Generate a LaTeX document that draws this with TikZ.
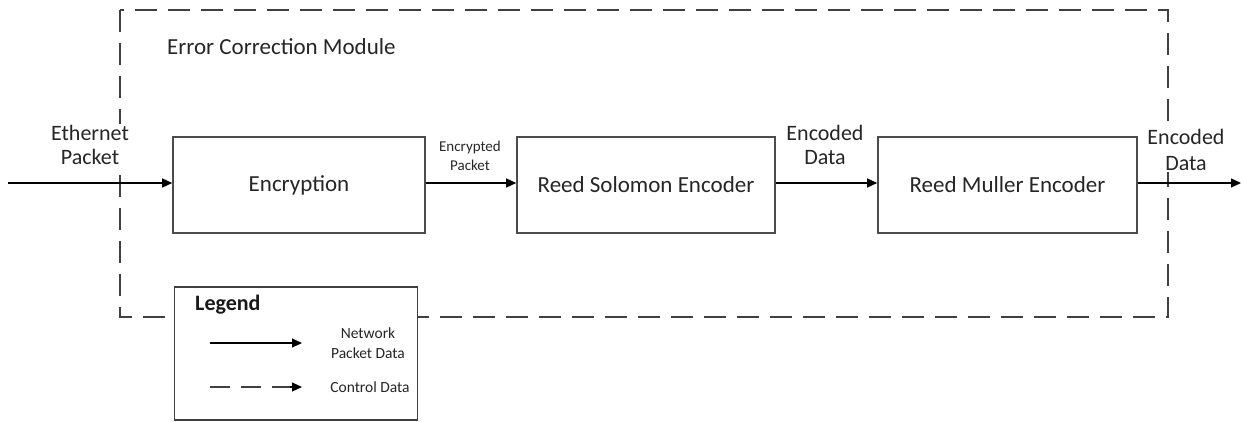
\documentclass[tikz,border=0pt]{standalone}
\usepackage{fontspec}
\setmainfont{Carlito}
\usetikzlibrary{arrows.meta}
\begin{document}
\begin{tikzpicture}[x=1pt,y=-1pt,
  blockbox/.style={draw=black!70,line width=1.6pt,fill=white,minimum width=252pt,minimum height=96pt,inner sep=0pt,font=\fontsize{23}{26}\selectfont,text=black!85},
  flow/.style={draw=black,line width=1.3pt,-{Triangle[length=10pt,width=9pt]}},
  ctrl/.style={draw=black!75,line width=1.3pt,dash pattern=on 22pt off 11pt},
  lbl/.style={font=\fontsize{22}{24}\selectfont,align=center,text=black!85,fill=white,inner sep=1.5pt},
  smalllbl/.style={font=\fontsize{15}{19}\selectfont,align=center,text=black!85,inner sep=0pt}]
\useasboundingbox (0,0) rectangle (1243,422);
% module box
\draw[ctrl] (120,10) rectangle (1168,317);
\node[anchor=west,inner sep=0pt,font=\fontsize{23}{26}\selectfont,text=black!85] (title) at (167,47) {Error Correction Module};
% blocks
\node[blockbox] (enc) at (299,185) {Encryption};
\node[blockbox,minimum width=258pt] (rs) at (646,185) {Reed Solomon Encoder};
\node[blockbox,minimum width=259pt] (rm) at (1007.5,185) {Reed Muller Encoder};
\coordinate (in) at (8,183);
\coordinate (out) at (1241,183);
\node[lbl] (l1) at (90,145) {Ethernet\\Packet};
\node[smalllbl] (l2) at (470,156) {Encrypted\\Packet};
\node[lbl] (l3) at (825,145) {Encoded\\Data};
\node[lbl,font=\fontsize{22}{26}\selectfont] (l4) at (1186,150) {Encoded\\Data};
\draw[flow] (in) -- (in -| enc.west);
\draw[flow] (enc.east |- in) -- (rs.west |- in);
\draw[flow] (rs.east |- in) -- (rm.west |- in);
\draw[flow] (rm.east |- in) -- (out);
% legend
\node[draw=black!75,fill=white,line width=1.3pt,minimum width=243pt,minimum height=133pt,inner sep=0pt] (leg) at (296,353.5) {};
\node[anchor=west,inner sep=0pt,font=\fontsize{22}{24}\selectfont\bfseries,text=black!90] (legt) at (195,305) {Legend};
\coordinate (a1) at (210,343);
\coordinate (a2) at (302,343);
\coordinate (b1) at (210,387);
\coordinate (b2) at (302,387);
\draw[flow,line width=1.1pt] (a1) -- (a2);
\draw[draw=black!75,line width=1.1pt,dash pattern=on 20pt off 11pt] (b1) -- ([xshift=-8pt]b2);
\draw[draw=black,line width=1.1pt,-{Triangle[length=10pt,width=9pt]}] ([xshift=-12pt]b2) -- (b2);
\node[smalllbl,font=\fontsize{15.5}{20}\selectfont] (n1) at (368,343) {Network\\Packet Data};
\node[smalllbl,font=\fontsize{15.5}{20}\selectfont] (n2) at (370,387) {Control Data};
\end{tikzpicture}
\end{document}
